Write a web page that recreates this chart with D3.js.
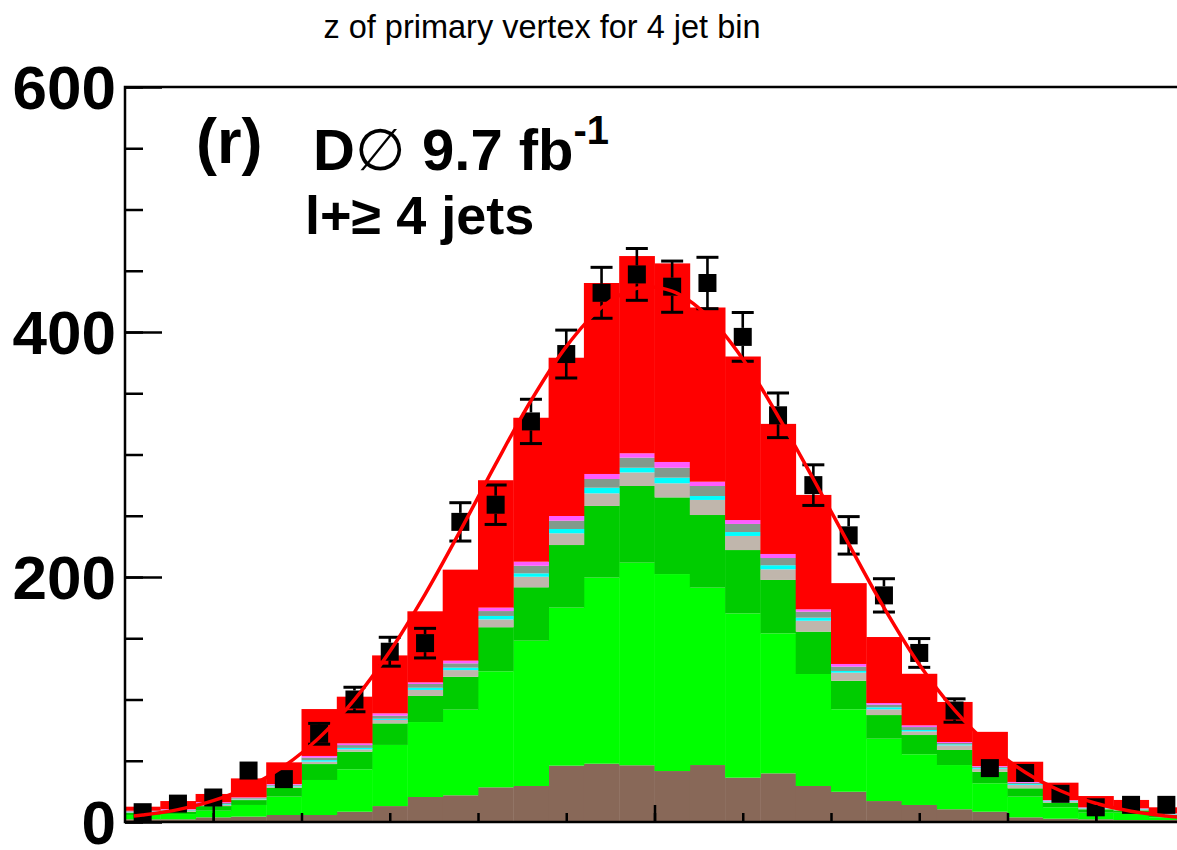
<!DOCTYPE html>
<html>
<head>
<meta charset="utf-8">
<script src="https://cdn.jsdelivr.net/npm/d3@7"></script>
<style>
  body { margin: 0; background: #fff; }
  svg { display: block; font-family: "Liberation Sans", Arial, Helvetica, sans-serif; }
</style>
</head>
<body>
<svg id="chart" width="1177" height="850"></svg>
<script>
// z of primary vertex (cm), low edge of each 4 cm bin
const binLow = [-60, -56, -52, -48, -44, -40, -36, -32, -28, -24, -20, -16, -12, -8, -4,
                0, 4, 8, 12, 16, 20, 24, 28, 32, 36, 40, 44, 48, 52, 56];
const binWidth = 4;

// stacked expectation, bottom to top (events per bin)
const multijet  = [2.2, 2.2, 3.8, 4.4, 5.7, 5.7, 8.4, 13.0, 20.4, 21.8, 28.3, 29.4, 46.0, 47.6, 46.3,
                   41.6, 46.5, 36.2, 39.7, 29.4, 24.7, 17.1, 13.9, 10.4, 8.4, 3.8, 2.7, 2.2, 1.6, 1.6];
const wLight    = [3.5, 4.3, 5.4, 9.5, 15.0, 28.6, 34.6, 49.9, 61.2, 69.9, 94.7, 118.6, 129.0, 151.9, 165.4,
                   160.8, 144.8, 134.1, 114.3, 91.4, 67.3, 50.9, 41.4, 36.1, 23.2, 16.9, 9.3, 5.4, 6.0, 2.2];
const wHeavy    = [1.9, 1.9, 3.8, 4.0, 7.3, 13.0, 14.4, 17.6, 21.3, 26.9, 36.0, 43.6, 51.1, 58.5, 62.6,
                   62.6, 59.3, 51.7, 43.6, 34.6, 23.3, 19.3, 15.7, 12.3, 9.4, 6.8, 3.8, 2.8, 1.9, 1.9];
const zJets     = [0.4, 0.6, 1.0, 0.7, 1.0, 2.0, 1.9, 2.8, 4.9, 5.4, 6.4, 8.6, 9.6, 10.3, 11.1,
                   11.5, 12.3, 11.5, 8.7, 8.9, 6.6, 4.7, 3.0, 3.8, 2.5, 2.8, 0.8, 0.6, 0.6, 0.5];
const singleTop = [0.3, 0.4, 0.6, 0.4, 0.6, 1.2, 1.2, 1.0, 1.8, 2.0, 2.8, 2.8, 3.5, 4.6, 3.8,
                   4.6, 3.2, 3.2, 3.3, 2.5, 1.4, 1.6, 1.1, 0.8, 0.7, 0.7, 0.4, 0.3, 0.4, 0.3];
const diboson   = [0.5, 0.6, 0.9, 0.6, 0.8, 2.1, 2.3, 2.5, 3.1, 3.5, 4.0, 6.2, 6.8, 7.1, 8.2,
                   8.1, 8.2, 6.6, 5.9, 4.9, 3.5, 2.2, 2.4, 1.1, 0.8, 1.0, 0.5, 0.4, 0.4, 0.4];
const zHeavy    = [0.4, 0.5, 0.7, 0.5, 0.6, 1.3, 1.4, 1.9, 1.3, 2.2, 2.8, 3.3, 3.8, 4.1, 3.6,
                   4.7, 3.5, 3.2, 3.3, 1.9, 2.2, 1.3, 1.4, 0.8, 0.7, 0.7, 0.4, 0.3, 0.3, 0.2];
const ttbar     = [3.3, 6.6, 6.7, 15.5, 17.7, 38.3, 38.1, 47.3, 58.0, 74.3, 104.0, 117.5, 129.2, 155.9, 161.0,
                   162.1, 142.2, 133.5, 106.2, 93.4, 66.0, 53.9, 42.1, 32.7, 27.9, 16.5, 14.2, 9.2, 6.8, 4.9];

// observed events
const dataCounts = [8, 15, 20, 42, 35, 72, 100, 139, 146, 245, 259, 327, 382, 432, 447,
                    437, 440, 396, 332, 275, 234, 185, 138, 91, 44, 40, 23, 12, 14, 14];

// gaussian fit
const fitX = [-59, -58, -54, -50, -46, -42, -38, -34, -30, -26, -22, -18, -14, -10, -6, -2,
              2, 6, 10, 14, 18, 22, 26, 30, 34, 38, 42, 46, 50, 54, 58, 60];
const fitY = [4.9, 5.7, 10.1, 17.4, 28.7, 45.4, 68.8, 99.9, 139.2, 185.9, 237.9, 292.1, 343.9, 388.1, 420.0, 435.7,
              433.4, 413.4, 378.0, 331.4, 280.0, 227.0, 175.0, 128.6, 91.3, 62.2, 40.6, 25.5, 15.3, 8.8, 4.9, 3.5];

const yMajor = [0, 200, 400, 600];

const components = [
  { key: "multijet",  values: multijet,  color: "#886858" },
  { key: "wLight",    values: wLight,    color: "#00ff00" },
  { key: "wHeavy",    values: wHeavy,    color: "#00cc00" },
  { key: "zJets",     values: zJets,     color: "#c0b6ac" },
  { key: "singleTop", values: singleTop, color: "#00ffff" },
  { key: "diboson",   values: diboson,   color: "#829a8c" },
  { key: "zHeavy",    values: zHeavy,    color: "#ff5cff" },
  { key: "ttbar",     values: ttbar,     color: "#ff0000" }
];

const svg = d3.select("#chart");

const frameL = 125, frameR = 1184, frameT = 87, frameB = 822;
const x = d3.scaleLinear().domain([-60, 60]).range([frameL, frameR]);
const y = d3.scaleLinear().domain([0, 600]).range([frameB, frameT]);

svg.append("defs").append("clipPath").attr("id", "frame")
  .append("rect")
  .attr("x", frameL).attr("y", frameT)
  .attr("width", frameR - frameL).attr("height", frameB - frameT);

const plot = svg.append("g").attr("clip-path", "url(#frame)");

// stack rows per bin
const rows = binLow.map(function (lo, i) {
  let r = { lo: lo };
  components.forEach(function (c) { r[c.key] = c.values[i]; });
  return r;
});
const stacked = d3.stack().keys(components.map(c => c.key))(rows);

stacked.forEach(function (layer, k) {
  plot.append("g")
    .attr("fill", components[k].color)
    .selectAll("rect")
    .data(layer)
    .join("rect")
    .attr("x", d => x(d.data.lo))
    .attr("width", d => x(d.data.lo + binWidth) - x(d.data.lo) + 0.4)
    .attr("y", d => y(d[1]))
    .attr("height", d => y(d[0]) - y(d[1]));
});

// data points with sqrt(N) errors
const half = 9;
const pts = plot.append("g");
dataCounts.forEach(function (n, i) {
  let cx = x(binLow[i] + binWidth / 2);
  let cy = y(n);
  let err = Math.sqrt(n);
  let yHi = y(n + err), yLo = y(n - err);
  if (cy - yHi > half) {
    pts.append("line").attr("x1", cx).attr("x2", cx).attr("y1", cy - half).attr("y2", yHi)
      .attr("stroke", "black").attr("stroke-width", 2.6);
    pts.append("line").attr("x1", cx - 11).attr("x2", cx + 11).attr("y1", yHi).attr("y2", yHi)
      .attr("stroke", "black").attr("stroke-width", 3);
    pts.append("line").attr("x1", cx).attr("x2", cx).attr("y1", cy + half).attr("y2", yLo)
      .attr("stroke", "black").attr("stroke-width", 2.6);
    pts.append("line").attr("x1", cx - 11).attr("x2", cx + 11).attr("y1", yLo).attr("y2", yLo)
      .attr("stroke", "black").attr("stroke-width", 3);
  }
  pts.append("rect")
    .attr("x", cx - half).attr("y", cy - half)
    .attr("width", 2 * half).attr("height", 2 * half)
    .attr("fill", "black");
});

// fit curve on top
const fitLine = d3.line()
  .x((d, i) => x(fitX[i]))
  .y(d => y(d))
  .curve(d3.curveCatmullRom);
plot.append("path")
  .attr("d", fitLine(fitY))
  .attr("fill", "none")
  .attr("stroke", "#ff0000")
  .attr("stroke-width", 3.5);

// axes, ROOT style ticks pointing inward
svg.append("g").attr("transform", `translate(${frameL},0)`)
  .call(d3.axisRight(y).tickValues(d3.range(0, 601, 50)).tickSize(18).tickFormat(""))
  .call(g => g.select(".domain").remove());
svg.append("g").attr("transform", `translate(${frameL},0)`)
  .call(d3.axisRight(y).tickValues(yMajor).tickSize(37).tickFormat(""))
  .call(g => g.select(".domain").remove());
svg.append("g").attr("transform", `translate(0,${frameB})`)
  .call(d3.axisTop(x).tickValues(d3.range(-50, 51, 10)).tickSize(9).tickFormat(""))
  .call(g => g.select(".domain").remove());
svg.append("g").attr("transform", `translate(0,${frameB})`)
  .call(d3.axisTop(x).tickValues([-50, 0, 50]).tickSize(17).tickFormat(""))
  .call(g => g.select(".domain").remove());
svg.selectAll(".tick line").attr("stroke", "black").attr("stroke-width", 2.5);

// frame
svg.append("rect")
  .attr("x", frameL).attr("y", frameT)
  .attr("width", frameR - frameL).attr("height", frameB - frameT)
  .attr("fill", "none").attr("stroke", "black").attr("stroke-width", 2.5);

// y tick labels
svg.append("g").selectAll("text")
  .data(yMajor)
  .join("text")
  .attr("x", frameL - 9)
  .attr("y", d => y(d))
  .attr("dy", "0.36em")
  .attr("text-anchor", "end")
  .attr("font-size", 62)
  .attr("font-weight", "bold")
  .text(d => d);

// title
svg.append("text")
  .attr("x", 542).attr("y", 38)
  .attr("text-anchor", "middle")
  .attr("font-size", 32.5)
  .text("z of primary vertex for 4 jet bin");

// labels inside frame
svg.append("text")
  .attr("x", 196).attr("y", 163)
  .attr("font-size", 63).attr("font-weight", "bold")
  .text("(r)");

const lumi = svg.append("text")
  .attr("x", 313).attr("y", 170)
  .attr("font-size", 58).attr("font-weight", "bold");
lumi.append("tspan").text("D");
lumi.append("tspan").attr("font-weight", "normal").text("\u2205");
lumi.append("tspan").text(" 9.7 fb");
lumi.append("tspan").attr("dy", -26).attr("font-size", 40).text("-1");

svg.append("text")
  .attr("x", 305).attr("y", 234)
  .attr("font-size", 54).attr("font-weight", "bold")
  .text("l+\u2265 4 jets");
</script>
</body>
</html>
